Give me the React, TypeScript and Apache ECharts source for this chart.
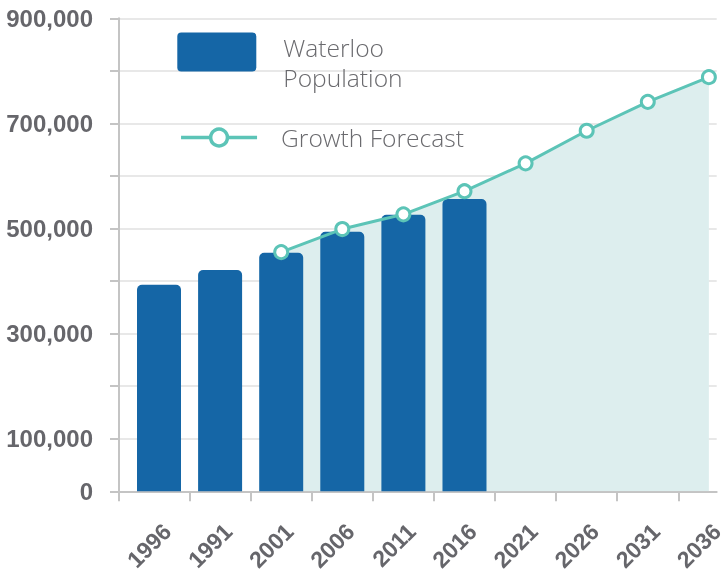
import React, { useEffect, useRef } from 'react';
import * as echarts from 'echarts';

const categories = ['1996', '1991', '2001', '2006', '2011', '2016', '2021', '2026', '2031', '2036'];
const populationValues = [393000, 421000, 454000, 494000, 526000, 556000];
const forecastValues: (number | null)[] = [null, null, 455000, 499000, 527000, 571000, 624000, 686000, 741000, 788000];
const yTickLabels = ['0', '100,000', '', '300,000', '', '500,000', '', '700,000', '', '900,000'];

const BAR_COLOR = '#1566a6';
const TEAL = '#5cc4b7';
const AREA = '#ddeeee';
const AXIS = '#c4c4c4';
const GRID = '#e0e0e0';
const TEXT = '#66666b';
const LEGEND_TEXT = '#6a6a6e';
const LEGEND_FONT = '"Open Sans", "Noto Sans", sans-serif';

const X_MIN = -0.6547;
const X_MAX = 9.128;

export default function App() {
  const ref = useRef<HTMLDivElement>(null);
  useEffect(() => {
    if (!ref.current) return;
    const chart = echarts.init(ref.current, undefined, { renderer: 'svg' });
    const barData = populationValues.map((v, i) => [i, v]);
    const lineData = forecastValues
      .map((v, i) => (v == null ? null : [i, v]))
      .filter((d) => d !== null);
    const tickValues = [X_MIN, ...categories.slice(1).map((_, i) => i + 0.5)];
    const labelValues = categories.map((_, i) => i);

    chart.setOption({
      animation: false,
      grid: { left: 119, right: 11.3, top: 18.3, bottom: 82.7, containLabel: false },
      legend: [
        {
          left: 177.3,
          top: 17,
          padding: 0,
          itemWidth: 79,
          itemHeight: 39,
          selectedMode: false,
          data: [
            {
              name: 'Waterloo\nPopulation',
              icon: 'path://M4,0 L75,0 Q79,0 79,4 L79,35 Q79,39 75,39 L4,39 Q0,39 0,35 L0,4 Q0,0 4,0 Z',
            },
          ],
          formatter: (name: string) =>
            '{s| }\n' + name.split('\n').map((l) => `{t|${l}}`).join('\n'),
          textStyle: {
            padding: [0, 0, 0, 22],
            rich: {
              s: { fontSize: 10, lineHeight: 20 },
              t: {
                fontFamily: LEGEND_FONT,
                fontSize: 24.6,
                fontWeight: 300,
                color: LEGEND_TEXT,
                lineHeight: 30,
              },
            },
          },
        },
        {
          left: 179.3,
          top: 125,
          padding: 0,
          itemWidth: 76,
          itemHeight: 21,
          selectedMode: false,
          data: ['Growth Forecast'],
          lineStyle: { color: TEAL, width: 3.5 },
          itemStyle: { color: '#ffffff', borderColor: TEAL, borderWidth: 3.5 },
          textStyle: {
            fontFamily: LEGEND_FONT,
            fontSize: 24.6,
            fontWeight: 300,
            color: LEGEND_TEXT,
            lineHeight: 24,
            padding: [0, 0, 0, 19],
          },
        },
      ],
      xAxis: {
        type: 'value',
        min: X_MIN,
        max: X_MAX,
        splitLine: { show: false },
        axisLine: { show: true, onZero: true, lineStyle: { color: AXIS, width: 2 } },
        axisTick: { show: true, length: 10, customValues: tickValues, lineStyle: { color: AXIS, width: 2 } },
        axisLabel: {
          customValues: labelValues,
          formatter: (v: number) => categories[Math.round(v)] ?? '',
          rotate: 45,
          align: 'right',
          verticalAlign: 'top',
          margin: 28,
          fontFamily: '"Liberation Sans", Arial, sans-serif',
          fontWeight: 'bold',
          fontSize: 23,
          color: TEXT,
        },
      },
      yAxis: {
        type: 'value',
        min: 0,
        max: 900000,
        interval: 100000,
        axisLine: { show: true, onZero: false, lineStyle: { color: AXIS, width: 2 } },
        axisTick: { show: true, length: 9, lineStyle: { color: AXIS, width: 2 } },
        splitLine: { show: true, lineStyle: { color: GRID, width: 1.5 } },
        axisLabel: {
          formatter: (v: number) => yTickLabels[Math.round(v / 100000)] ?? '',
          margin: 26,
          fontFamily: '"Liberation Sans", Arial, sans-serif',
          fontWeight: 'bold',
          fontSize: 24,
          color: TEXT,
        },
      },
      series: [
        {
          name: 'forecast-area',
          type: 'line',
          data: lineData,
          showSymbol: false,
          symbol: 'none',
          lineStyle: { width: 0, color: AREA },
          areaStyle: { color: AREA, opacity: 1 },
          z: 1,
          silent: true,
        },
        {
          name: 'Waterloo\nPopulation',
          type: 'bar',
          data: barData,
          barWidth: 44,
          itemStyle: { color: BAR_COLOR, borderRadius: [5, 5, 0, 0] },
          z: 2,
        },
        {
          name: 'Growth Forecast',
          type: 'line',
          data: lineData,
          symbol: 'circle',
          symbolSize: 13,
          lineStyle: { color: TEAL, width: 3 },
          itemStyle: { color: '#ffffff', borderColor: TEAL, borderWidth: 3 },
          z: 3,
        },
      ],
    });
    return () => chart.dispose();
  }, []);
  return <div ref={ref} style={{ position: 'fixed', left: 0, top: 0, width: 728, height: 574 }} />;
}
